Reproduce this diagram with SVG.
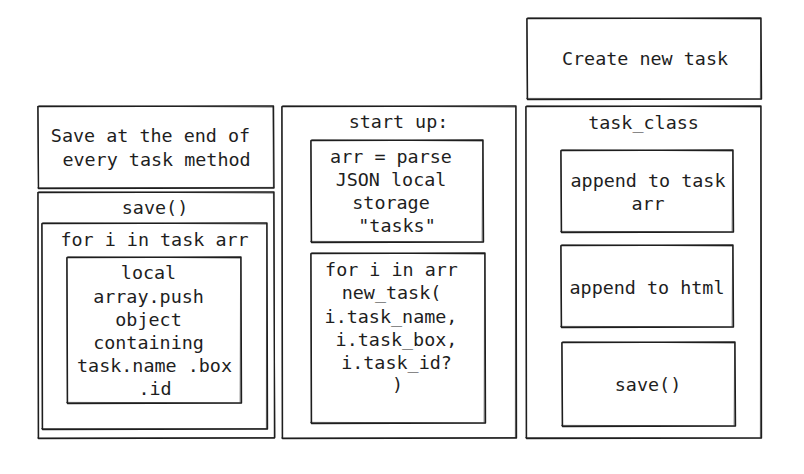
<svg xmlns="http://www.w3.org/2000/svg" width="804" height="474" viewBox="0 0 804 474">
<style>
.b{fill:none;stroke:#1e1e1e;stroke-width:1.4;stroke-linecap:round;stroke-linejoin:round}
.b2{fill:none;stroke:#1e1e1e;stroke-width:0.9;stroke-linecap:round;opacity:0.8}
text{font-family:"DejaVu Sans Mono","Liberation Mono",monospace;font-size:18.4px;fill:#1e1e1e;text-anchor:middle}
</style>
<rect width="804" height="474" fill="#ffffff"/>
<g id="save-note">
<path class="b" d="M38 106.5 L273.5 106 L274 188 L38.5 188.5 Z"/>
<path class="b2" d="M39 105.8 L272.8 107 M273 106.5 L273.4 187.6 M273.8 187.4 L37.8 187.8 M38.4 188 L37.6 106.4"/>
<text x="150.5" y="141.5">Save at the end of</text>
<text x="156.5" y="165.5">every task method</text>
</g>
<g id="save-func">
<path class="b" d="M38 192.5 L274 192 L274.5 438 L38.5 438.5 Z"/>
<path class="b2" d="M38.8 191.8 L273.2 193 M273.4 192.6 L275 437.4 M274 437.6 L37.6 438 M38.2 437.6 L37.8 192.4"/>
<text x="155" y="214">save()</text>
</g>
<g id="save-loop">
<path class="b" d="M42 223.5 L267 223 L267.5 429 L42.5 429.5 Z"/>
<path class="b2" d="M42.8 222.8 L266.2 224 M266.6 223.4 L266.4 428.4 M267 428.8 L41.6 428.6 M42.2 428.8 L41.6 224"/>
<text x="154.5" y="245.5">for i in task arr</text>
</g>
<g id="save-push">
<path class="b" d="M67 257.5 L241 257 L241.5 403 L67.5 403.5 Z"/>
<path class="b2" d="M67.8 256.8 L240.2 258 M240.6 257.4 L240.2 402.2 M241 402.8 L66.6 402.4 M67.2 402.8 L66.6 258"/>
<text x="148.5" y="279">local</text>
<text x="148.5" y="302.5">array.push</text>
<text x="148.5" y="326">object</text>
<text x="148.5" y="349">containing</text>
<text x="154.5" y="372">task.name .box</text>
<text x="155" y="395">.id</text>
</g>
<g id="startup">
<path class="b" d="M282 106.5 L516 106 L516.5 438 L282.5 438.5 Z"/>
<path class="b2" d="M282.8 105.8 L515.2 107 M515.6 106.6 L515.4 437.4 M516 437.6 L281.6 438 M282.2 437.8 L281.6 107"/>
<text x="398.5" y="128">start up:</text>
</g>
<g id="startup-parse">
<path class="b" d="M311 140.5 L483 140 L483.5 242 L311.5 242.5 Z"/>
<path class="b2" d="M311.8 139.8 L482.2 141 M482.6 140.6 L482.2 241.2 M483 241.8 L310.6 241.4 M311.2 241.8 L310.6 141"/>
<text x="391" y="163">arr = parse</text>
<text x="391" y="186">JSON local</text>
<text x="391" y="209">storage</text>
<text x="397" y="231.5">"tasks"</text>
</g>
<g id="startup-loop">
<path class="b" d="M311 253.5 L485 253 L485.5 423 L311.5 423.5 Z"/>
<path class="b2" d="M311.8 252.8 L484.2 254 M484.6 253.6 L484.2 422.2 M485 422.8 L310.6 422.4 M311.2 422.8 L310.6 254"/>
<text x="391.5" y="276">for i in arr</text>
<text x="391.5" y="299">new_task(</text>
<text x="391" y="322.5">i.task_name,</text>
<text x="396.5" y="345.5">i.task_box,</text>
<text x="396.5" y="368.5">i.task_id?</text>
<text x="397.5" y="391">)</text>
</g>
<g id="create-task">
<path class="b" d="M527 18.5 L761 18 L761.5 99 L527.5 99.5 Z"/>
<path class="b2" d="M527.8 17.8 L760.2 19 M760.6 18.6 L760.4 98.4 M761 98.8 L526.6 98.4 M527.2 98.8 L526.6 19"/>
<text x="645" y="65">Create new task</text>
</g>
<g id="task-class">
<path class="b" d="M526 106.5 L761 106 L761.5 438 L526.5 438.5 Z"/>
<path class="b2" d="M526.8 105.8 L760.2 107 M760.6 106.6 L760.4 437.4 M761 437.8 L525.6 437.6 M526.2 437.8 L525.6 107"/>
<text x="643.5" y="128.5">task_class</text>
</g>
<g id="append-arr">
<path class="b" d="M561 150.5 L733 150 L733.5 232 L561.5 232.5 Z"/>
<path class="b2" d="M561.8 149.8 L732.2 151 M732.6 150.6 L732.2 231.2 M733 231.8 L560.6 231.4 M561.2 231.8 L560.6 151"/>
<text x="648" y="187">append to task</text>
<text x="648" y="209.5">arr</text>
</g>
<g id="append-html">
<path class="b" d="M561 245.5 L733 245 L733.5 327 L561.5 327.5 Z"/>
<path class="b2" d="M561.8 244.8 L732.2 246 M732.6 245.6 L732.2 326.2 M733 326.8 L560.6 326.4 M561.2 326.8 L560.6 246"/>
<text x="647" y="293.5">append to html</text>
</g>
<g id="class-save">
<path class="b" d="M562 342.5 L735 342 L735.5 426 L562.5 426.5 Z"/>
<path class="b2" d="M562.8 341.8 L734.2 343 M734.6 342.6 L734.2 425.2 M735 425.8 L561.6 425.4 M562.2 425.8 L561.6 343"/>
<text x="648" y="391">save()</text>
</g>
<g id="connectors"></g>
</svg>
